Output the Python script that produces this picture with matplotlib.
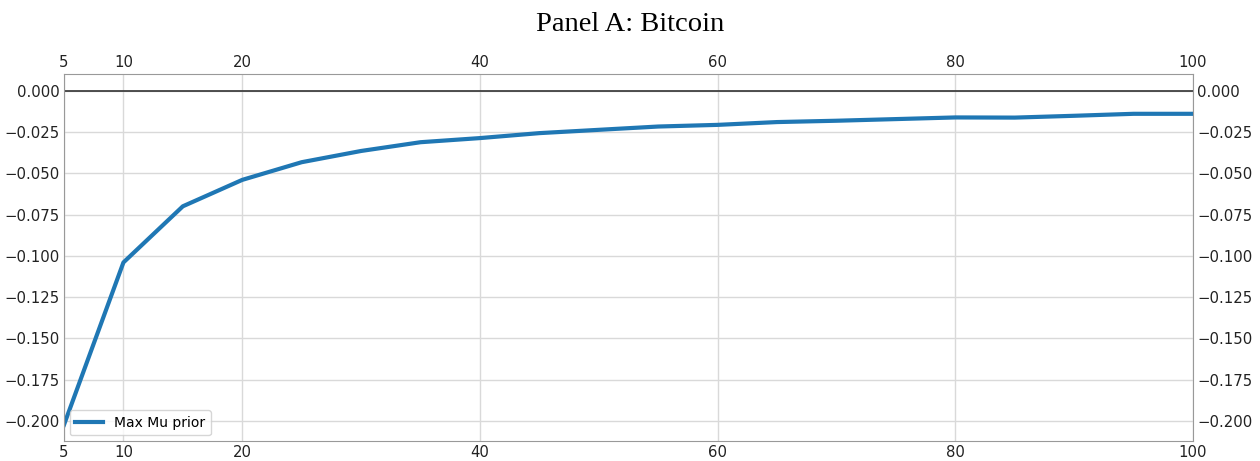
import matplotlib
matplotlib.use("Agg")
import matplotlib.pyplot as plt

window = [5, 10, 15, 20, 25, 30, 35, 40, 45, 50, 55, 60, 65, 70, 75, 80, 85, 90, 95, 100]
max_mu_prior = [-0.2023, -0.104, -0.070, -0.054, -0.0433, -0.0365, -0.0312, -0.0287, -0.0257,
                -0.0237, -0.0217, -0.0207, -0.0190, -0.0182, -0.0172, -0.0162, -0.0163, -0.0152,
                -0.0140, -0.0140]
xticks = [5, 10, 20, 40, 60, 80, 100]
yticks = [0.0, -0.025, -0.05, -0.075, -0.1, -0.125, -0.15, -0.175, -0.2]

fig = plt.figure(figsize=(12.6, 4.61), dpi=100)
ax = fig.add_axes([64/1260, 20/461, (1193-64)/1260, (441-74)/461])
ax.plot(window, max_mu_prior, color="#1f77b4", lw=3, label="Max Mu prior")
ax.axhline(0, color="#333333", lw=1.2)
ax.set_xlim(5, 100)
ax.set_ylim(-0.2121, 0.0101)
ax.set_xticks(xticks)
ax.set_yticks(yticks)
ax.set_yticklabels([f"{v:.3f}".replace("-", "\u2212") if v != 0 else "0.000" for v in yticks])
ax.grid(True, color="#d9d9d9", lw=1)
ax.set_axisbelow(True)
for s in ax.spines.values():
    s.set_color("#999999")
ax.tick_params(axis="both", which="both", length=0, labelsize=10.7, colors="#222222",
               top=True, right=True, labeltop=True, labelright=True, pad=3)
ax.legend(loc="lower left", fontsize=10, frameon=True, handlelength=2.0,
          borderaxespad=0.4)
fig.suptitle("Panel A: Bitcoin", fontsize=20.5, family=["Liberation Serif", "DejaVu Serif"], y=0.975)
fig.savefig("out.png", dpi=100)
